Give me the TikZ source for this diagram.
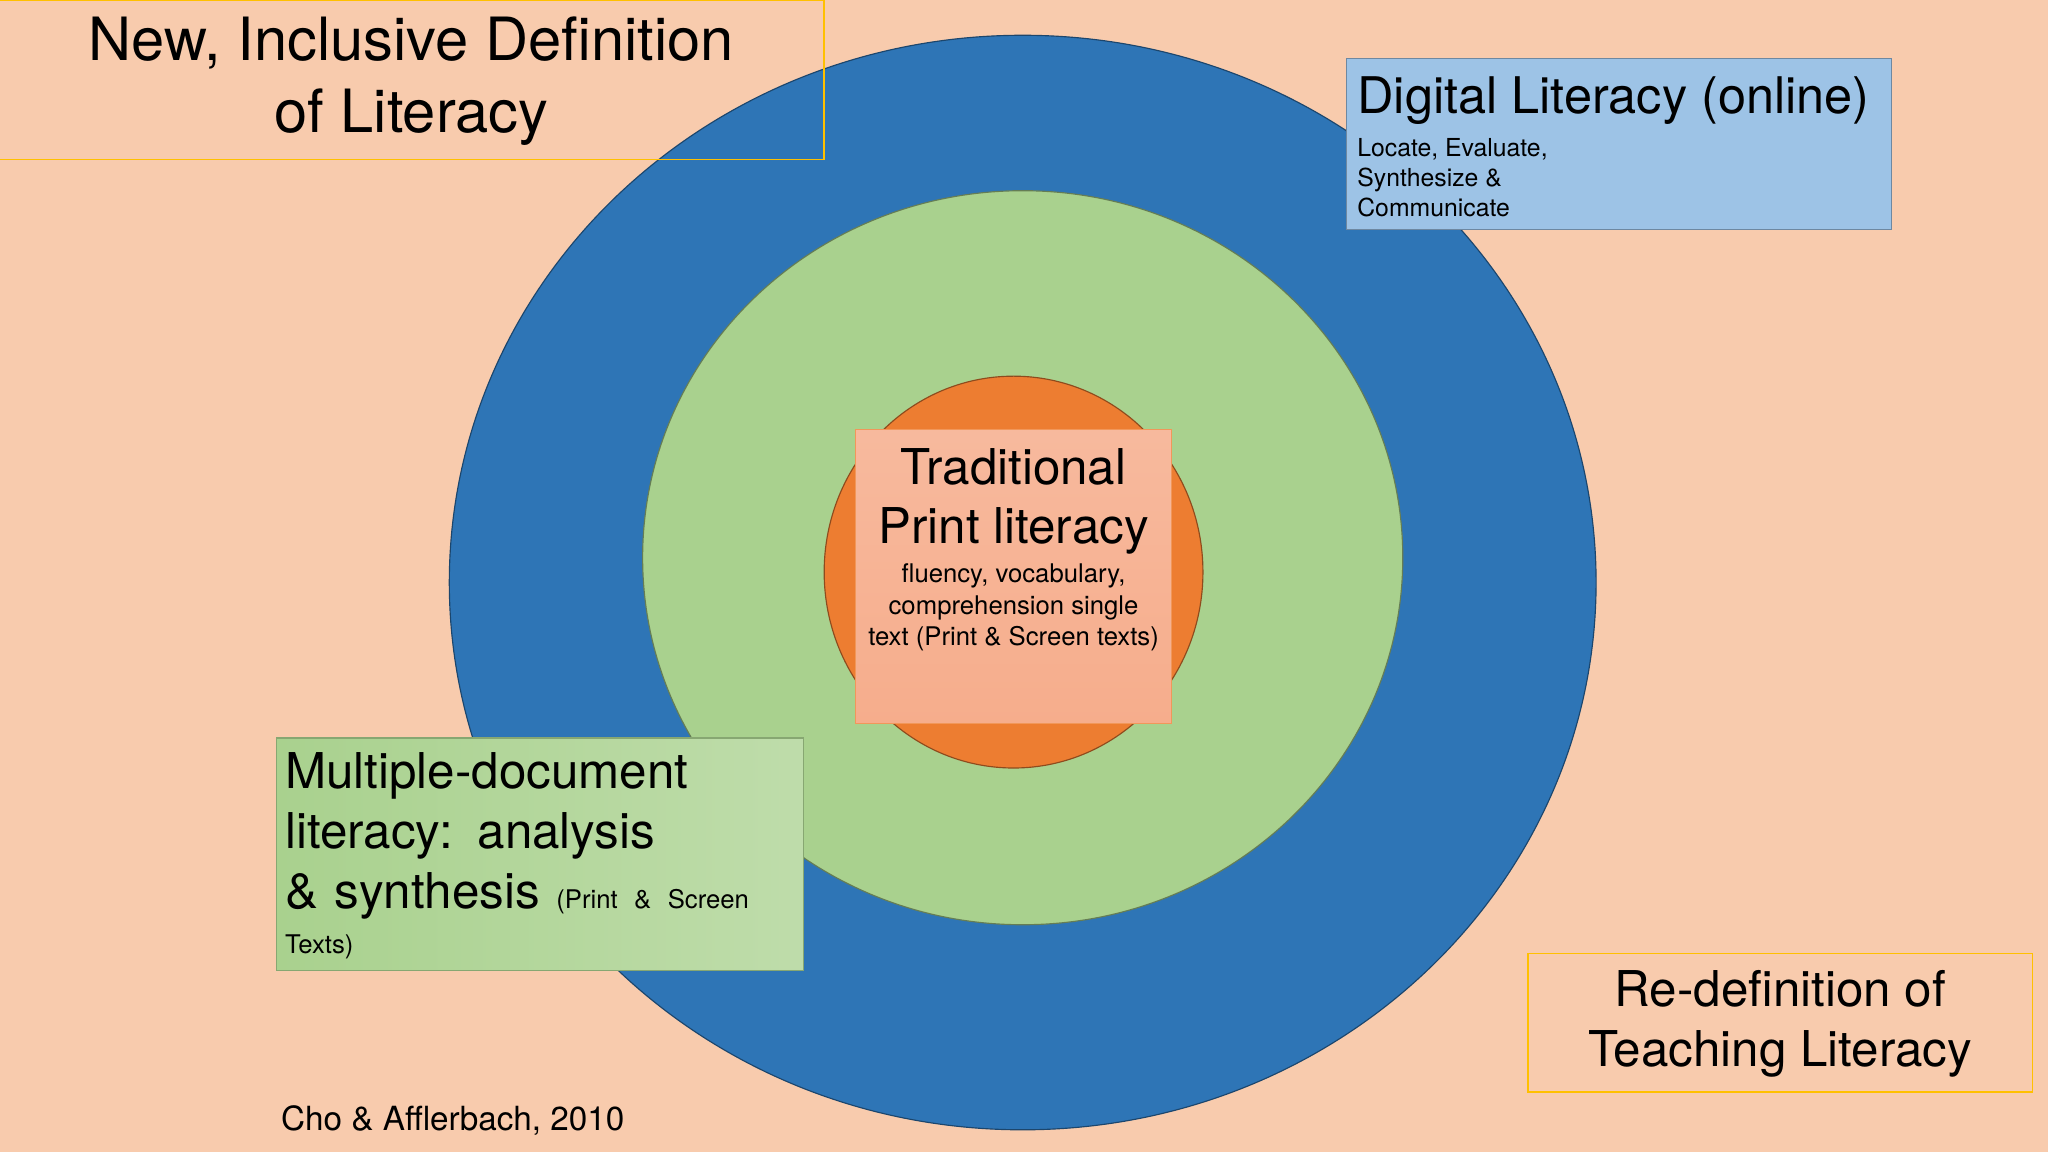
\documentclass[tikz,border=0pt]{standalone}
\usepackage{fontspec}
\setmainfont{TeX Gyre Heros}
\definecolor{bg}{HTML}{F8CBAD}
\definecolor{blu}{HTML}{2E75B6}
\definecolor{grn}{HTML}{A9D18E}
\definecolor{org}{HTML}{ED7D31}
\definecolor{sal}{HTML}{F6AD8C}
\definecolor{lblu}{HTML}{9DC3E6}
\definecolor{ylw}{HTML}{FFC000}
\tikzset{
  ring/.style={draw=black!40!#1, line width=0.5pt, fill=#1},
  box/.style={inner sep=0pt, line width=0.6pt}
}
\begin{document}
\begin{tikzpicture}[x=0.02cm,y=-0.02cm]
\fill[bg] (0,0) rectangle (1568,882);
\useasboundingbox (0,0) rectangle (1568,882);
\draw[ring=blu] (783,446) ellipse [x radius=439, y radius=419];
\draw[ring=grn] (783,427) ellipse [x radius=291, y radius=281];
\draw[ring=org] (776,438) ellipse [x radius=145, y radius=150];
% center box
\path[top color=sal!85!white, bottom color=sal, draw=org!80!white, line width=0.6pt] (655,329) rectangle (897,554);
\node[align=center, font=\fontsize{21.5}{26}\selectfont] (trad) at (776,384) {Traditional\\Print literacy};
\node[align=center, font=\fontsize{11.2}{13.6}\selectfont] (tradsub) at (776,465) {fluency, vocabulary,\\comprehension single\\text (Print \& Screen texts)};
% top-left
\draw[ylw, line width=0.6pt] (0,0) -- (631,0) -- (631,122) -- (0,122);
\node[align=center, font=\fontsize{26}{31.5}\selectfont] (title) at (315,62) {New, Inclusive Definition\\of Literacy};
% digital
\draw[fill=lblu, draw=lblu!70!black, line width=0.5pt] (1031,45) rectangle (1448,176);
\node[anchor=west, font=\fontsize{22}{26}\selectfont] (dig) at (1033,77) {Digital Literacy (online)};
\node[anchor=north west, align=left, font=\fontsize{10.8}{13}\selectfont] (digsub) at (1033,100) {Locate, Evaluate,\\Synthesize \&\\Communicate};
% multiple
\path[left color=grn, right color=grn!75!white, draw=grn!80!black, line width=0.5pt] (212,565) rectangle (615,743);
\node[anchor=north west, align=left, text width=390*0.02cm, font=\fontsize{21.5}{26}\selectfont, inner sep=0pt] (multi) at (218,576) {Multiple-document\\literacy: analysis\\\& synthesis {\fontsize{11.2}{13.6}\selectfont (Print \& Screen}\\[-6pt]{\fontsize{11.2}{13.6}\selectfont Texts)}};
% redef
\draw[ylw, line width=0.6pt] (1170,730) rectangle (1556,836);
\node[align=center, font=\fontsize{21.5}{26}\selectfont] (redef) at (1363,784) {Re-definition of\\Teaching Literacy};
% citation
\node[anchor=west, font=\fontsize{14.5}{17}\selectfont] (cite) at (209,858) {Cho \& Afflerbach, 2010};
\end{tikzpicture}
\end{document}
